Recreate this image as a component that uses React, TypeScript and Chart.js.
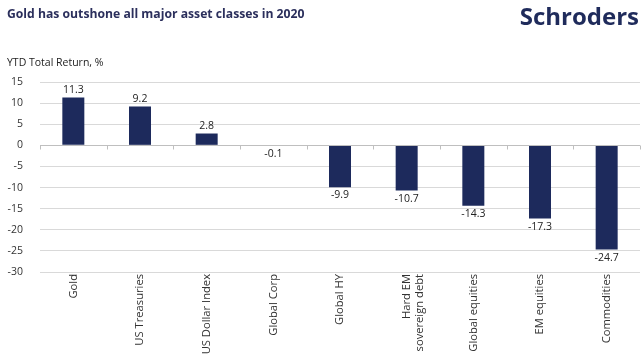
import React, { useEffect, useRef } from "react";
import { Chart, registerables } from "chart.js";

Chart.register(...registerables);

const categories: (string | string[])[] = [
  "Gold",
  "US Treasuries",
  "US Dollar Index",
  "Global Corp",
  "Global HY",
  ["Hard EM", "sovereign debt"],
  "Global equities",
  "EM equities",
  "Commodities",
];
const returns = [11.3, 9.2, 2.8, -0.1, -9.9, -10.7, -14.3, -17.3, -24.7];
const yMin = -30;
const yMax = 15;
const yStep = 5;

const FONT = "'Open Sans', 'Noto Sans', sans-serif";
const BAR = "#1d2a5c";

const labelPlugin = {
  id: "valueLabels",
  afterDatasetsDraw(chart: any) {
    const ctx = chart.ctx;
    const meta = chart.getDatasetMeta(0);
    ctx.save();
    ctx.font = `10.5px ${FONT}`;
    ctx.fillStyle = "#222";
    ctx.textAlign = "center";
    meta.data.forEach((bar: any, i: number) => {
      const v = returns[i];
      if (v >= 0) {
        ctx.textBaseline = "bottom";
        ctx.fillText(v.toFixed(1), bar.x, Math.min(bar.y, bar.base) - 2);
      } else {
        ctx.textBaseline = "top";
        ctx.fillText(v.toFixed(1), bar.x, Math.max(bar.y, bar.base) + 3);
      }
    });
    ctx.restore();
  },
};

const zeroTicksPlugin = {
  id: "zeroTicks",
  afterDatasetsDraw(chart: any) {
    const ctx = chart.ctx;
    const x = chart.scales.x;
    const y = chart.scales.y;
    const y0 = Math.round(y.getPixelForValue(0)) + 0.5;
    const n = categories.length;
    const w = (x.right - x.left) / n;
    ctx.save();
    ctx.strokeStyle = "#bfbfbf";
    ctx.lineWidth = 1;
    ctx.beginPath();
    ctx.moveTo(x.left, y0);
    ctx.lineTo(x.right, y0);
    for (let i = 0; i <= n; i++) {
      const px = Math.round(x.left + i * w) + 0.5;
      ctx.moveTo(px, y0);
      ctx.lineTo(px, y0 + 4);
    }
    ctx.stroke();
    ctx.restore();
  },
};

export default function App() {
  const ref = useRef<HTMLCanvasElement>(null);
  useEffect(() => {
    if (!ref.current) return;
    const chart = new Chart(ref.current, {
      type: "bar",
      data: {
        labels: categories as any,
        datasets: [
          {
            data: returns,
            backgroundColor: BAR,
            borderWidth: 0,
            barPercentage: 0.33,
            categoryPercentage: 1,
          },
        ],
      },
      options: {
        animation: false,
        responsive: false,
        devicePixelRatio: 1,
        layout: { padding: { top: 82, right: 4, left: 0, bottom: 0 } },
        plugins: {
          legend: { display: false },
          tooltip: { enabled: false },
        },
        scales: {
          x: {
            grid: { display: false, drawTicks: false },
            border: { display: false },
            ticks: {
              color: "#333",
              font: { family: FONT, size: 11.2 },
              minRotation: 90,
              maxRotation: 90,
              autoSkip: false,
              padding: 2,
            },
            afterFit(scale: any) {
              scale.height = 89;
              scale.paddingLeft = 0;
              scale.paddingRight = 0;
            },
          },
          y: {
            min: yMin,
            max: yMax,
            ticks: {
              stepSize: yStep,
              color: "#333",
              font: { family: FONT, size: 10.5 },
              padding: 17,
            },
            grid: {
              drawTicks: false,
              color: (c: any) => (c.tick && c.tick.value === 0 ? "rgba(0,0,0,0)" : "#d9d9d9"),
            },
            border: { display: false },
            afterFit(scale: any) {
              scale.width = 40;
            },
          },
        },
      },
      plugins: [labelPlugin, zeroTicksPlugin],
    });
    return () => chart.destroy();
  }, []);

  return (
    <div style={{ position: "fixed", left: 0, top: 0, width: 644, height: 361, background: "#fff" }}>
      <canvas ref={ref} width={644} height={361} style={{ position: "absolute", left: 0, top: 0 }} />
      <div
        style={{
          position: "absolute",
          left: 7,
          top: 6,
          font: `bold 12.2px ${FONT}`,
          color: "#2b2f5c",
          lineHeight: "16px",
          whiteSpace: "nowrap",
        }}
      >
        Gold has outshone all major asset classes in 2020
      </div>
      <div
        style={{
          position: "absolute",
          right: 5,
          top: 1,
          font: `bold 24px ${FONT}`,
          color: "#1f2b5b",
          lineHeight: "30px",
          whiteSpace: "nowrap",
        }}
      >
        Schroders
      </div>
      <div
        style={{
          position: "absolute",
          left: 7,
          top: 55,
          font: `10.5px ${FONT}`,
          color: "#222",
          lineHeight: "14px",
          whiteSpace: "nowrap",
        }}
      >
        YTD Total Return, %
      </div>
    </div>
  );
}
